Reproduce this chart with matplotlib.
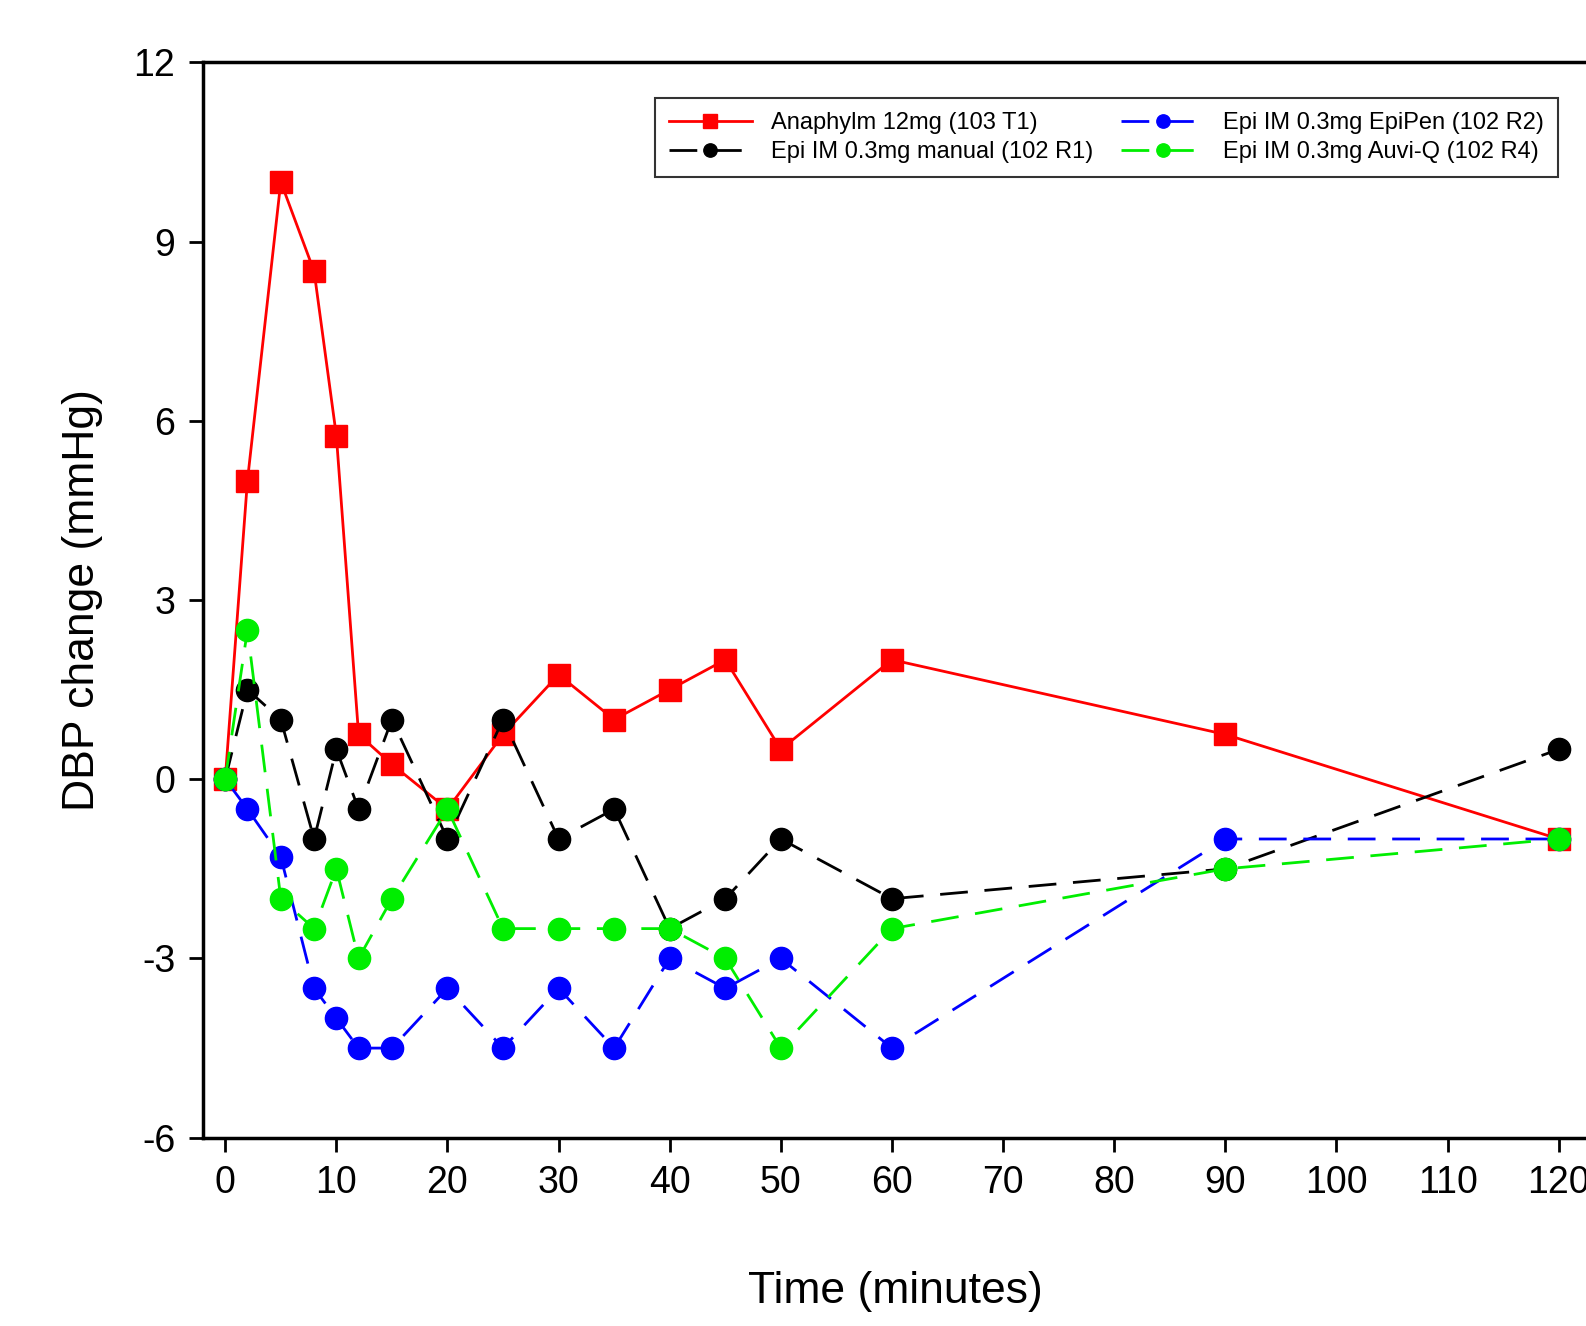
import matplotlib
matplotlib.use("Agg")
import matplotlib.pyplot as plt

plt.rcParams['font.family'] = ['Liberation Sans', 'DejaVu Sans']
plt.rcParams['axes.unicode_minus'] = False

time = [0, 2, 5, 8, 10, 12, 15, 20, 25, 30, 35, 40, 45, 50, 60, 90, 120]
red = [0, 5, 10, 8.5, 5.75, 0.75, 0.25, -0.5, 0.75, 1.75, 1, 1.5, 2, 0.5, 2, 0.75, -1]
black = [0, 1.5, 1, -1, 0.5, -0.5, 1, -1, 1, -1, -0.5, -2.5, -2, -1, -2, -1.5, 0.5]
blue = [0, -0.5, -1.3, -3.5, -4, -4.5, -4.5, -3.5, -4.5, -3.5, -4.5, -3, -3.5, -3, -4.5, -1, -1]
green = [0, 2.5, -2, -2.5, -1.5, -3, -2, -0.5, -2.5, -2.5, -2.5, -2.5, -3, -4.5, -2.5, -1.5, -1]
xticks = list(range(0, 121, 10))
yticks = [-6, -3, 0, 3, 6, 9, 12]

fig = plt.figure(figsize=(15.86, 13.26), dpi=100)
ax = fig.add_axes([0.128, 0.142, 0.873, 0.811])
ds = (0, (10, 6))
ax.plot(time, red, color='#ff0000', marker='s', ms=16, lw=2, label='Anaphylm 12mg (103 T1)', clip_on=False)
ax.plot(time, black, color='black', marker='o', ms=16, lw=2, ls=ds, label='Epi IM 0.3mg manual (102 R1)', clip_on=False)
ax.plot(time, blue, color='#0000ff', marker='o', ms=16, lw=2, ls=ds, label='Epi IM 0.3mg EpiPen (102 R2)', clip_on=False)
ax.plot(time, green, color='#00ee00', marker='o', ms=16, lw=2, ls=ds, label='Epi IM 0.3mg Auvi-Q (102 R4)', clip_on=False)
ax.set_xlim(-2, 122.6)
ax.set_ylim(-6, 12)
ax.set_xticks(xticks)
ax.set_yticks(yticks)
ax.tick_params(direction='out', length=10, width=2, labelsize=27, pad=10)
for s in ax.spines.values():
    s.set_linewidth(2.5)
ax.set_xlabel('Time (minutes)', fontsize=32, labelpad=50)
ax.set_ylabel('DBP change (mmHg)', fontsize=32, labelpad=22)
h, l = ax.get_legend_handles_labels()
leg = ax.legend(h, l, ncol=2, loc='upper right', bbox_to_anchor=(0.987, 0.978),
                fontsize=17, frameon=True, fancybox=False, edgecolor='black',
                markerscale=0.6, handlelength=3.5, columnspacing=1.2, borderpad=0.6,
                labelspacing=0.3)
leg.get_frame().set_linewidth(1.5)
fig.savefig('out.png', dpi=100)
